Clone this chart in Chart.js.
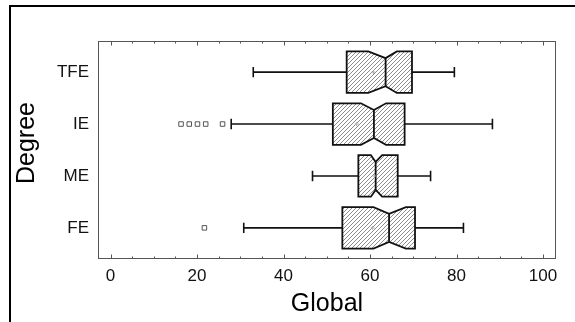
<!DOCTYPE html>
<html>
<head>
<meta charset="utf-8">
<script src="https://cdn.jsdelivr.net/npm/chart.js@4.4.1/dist/chart.umd.min.js"></script>
<style>
  html, body { margin: 0; padding: 0; background: #fff; overflow: hidden; }
</style>
</head>
<body>
<canvas id="boxChart" width="575" height="322"></canvas>
<script>
// categories bottom -> top
const categories = ['FE', 'ME', 'IE', 'TFE'];
const whiskerLow = [30.8, 46.7, 27.9, 33.0];
const q1 = [53.6, 57.3, 51.4, 54.6];
const medians = [64.4, 61.3, 60.9, 63.6];
const q3 = [70.4, 66.4, 68.0, 69.7];
const whiskerHigh = [81.6, 74.0, 88.3, 79.5];
const notchLow = [60.8, 60.2, 57.9, 59.6];
const notchHigh = [68.3, 62.8, 63.7, 66.2];
const means = [60.6, 61.0, 56.9, 60.8];
const outliers = [[21.7], [], [16.3, 18.2, 20.1, 22.0, 25.9], []];
const xTicks = [0, 20, 40, 60, 80, 100];

const FONT = "Arial, 'Liberation Sans', sans-serif";

// hatch pattern for the boxes
const hatch = (() => {
    const pc = document.createElement('canvas');
    pc.width = 4; pc.height = 4;
    const p = pc.getContext('2d');
    p.strokeStyle = '#6f6f6f';
    p.lineWidth = 0.8;
    p.beginPath();
    p.moveTo(0, 4); p.lineTo(4, 0);
    p.moveTo(-1, 1); p.lineTo(1, -1);
    p.moveTo(3, 5); p.lineTo(5, 3);
    p.stroke();
    return p.createPattern(pc, 'repeat');
})();

const boxPlugin = {
    id: 'boxPlugin',
    beforeDatasetsDraw(chart) {
        const { ctx, scales: { x, y } } = chart;
        const half = 0.4, notchDepth = 0.13, cap = 0.1;
        ctx.save();
        categories.forEach((c, i) => {
            const yc = i + 1;
            const yMid = y.getPixelForValue(yc);
            const top = y.getPixelForValue(yc + half);
            const bot = y.getPixelForValue(yc - half);
            const nTop = y.getPixelForValue(yc + half - notchDepth);
            const nBot = y.getPixelForValue(yc - half + notchDepth);
            const px = v => x.getPixelForValue(v);

            // whiskers
            ctx.strokeStyle = '#111';
            ctx.lineWidth = 1.6;
            ctx.beginPath();
            ctx.moveTo(px(whiskerLow[i]), yMid); ctx.lineTo(px(q1[i]), yMid);
            ctx.moveTo(px(q3[i]), yMid); ctx.lineTo(px(whiskerHigh[i]), yMid);
            ctx.moveTo(px(whiskerLow[i]), y.getPixelForValue(yc + cap));
            ctx.lineTo(px(whiskerLow[i]), y.getPixelForValue(yc - cap));
            ctx.moveTo(px(whiskerHigh[i]), y.getPixelForValue(yc + cap));
            ctx.lineTo(px(whiskerHigh[i]), y.getPixelForValue(yc - cap));
            ctx.stroke();

            // notched box
            ctx.beginPath();
            ctx.moveTo(px(q1[i]), top);
            ctx.lineTo(px(notchLow[i]), top);
            ctx.lineTo(px(medians[i]), nTop);
            ctx.lineTo(px(notchHigh[i]), top);
            ctx.lineTo(px(q3[i]), top);
            ctx.lineTo(px(q3[i]), bot);
            ctx.lineTo(px(notchHigh[i]), bot);
            ctx.lineTo(px(medians[i]), nBot);
            ctx.lineTo(px(notchLow[i]), bot);
            ctx.lineTo(px(q1[i]), bot);
            ctx.closePath();
            ctx.fillStyle = '#fff';
            ctx.fill();
            ctx.fillStyle = hatch;
            ctx.fill();
            ctx.lineWidth = 1.8;
            ctx.stroke();

            // median line
            ctx.beginPath();
            ctx.moveTo(px(medians[i]), nTop);
            ctx.lineTo(px(medians[i]), nBot);
            ctx.stroke();
        });
        ctx.restore();
    },
    afterDraw(chart) {
        const { ctx, chartArea: a, scales: { x } } = chart;
        ctx.save();
        // plot frame
        ctx.strokeStyle = '#555';
        ctx.lineWidth = 1;
        ctx.strokeRect(a.left + 0.5, a.top + 0.5, a.right - a.left - 1, a.bottom - a.top - 1);
        // inward ticks, top and bottom
        ctx.beginPath();
        for (let v = 0; v <= 100; v += 5) {
            const p = Math.round(x.getPixelForValue(v)) + 0.5;
            const len = v % 20 === 0 ? 4.5 : 2.5;
            ctx.moveTo(p, a.bottom); ctx.lineTo(p, a.bottom - len);
            ctx.moveTo(p, a.top); ctx.lineTo(p, a.top + len);
        }
        ctx.stroke();
        // outer frame of the graph window
        ctx.strokeStyle = '#000';
        ctx.lineWidth = 2;
        ctx.beginPath();
        ctx.moveTo(10, 330); ctx.lineTo(10, 6); ctx.lineTo(580, 6);
        ctx.stroke();
        ctx.restore();
    }
};

new Chart(document.getElementById('boxChart'), {
    type: 'scatter',
    data: {
        datasets: [
            {
                label: 'Outliers',
                data: outliers.flatMap((vals, i) => vals.map(v => ({ x: v, y: i + 1 }))),
                pointStyle: 'rect',
                pointRadius: 3.2,
                backgroundColor: '#fff',
                borderColor: '#555',
                borderWidth: 1
            },
            {
                label: 'Mean',
                data: means.map((v, i) => ({ x: v, y: i + 1 })),
                pointStyle: 'cross',
                pointRadius: 2,
                borderColor: '#b0b0b0',
                borderWidth: 1
            }
        ]
    },
    options: {
        responsive: false,
        devicePixelRatio: 1,
        animation: false,
        layout: { padding: { left: 0, top: 41, right: 19, bottom: 3 } },
        plugins: { legend: { display: false }, tooltip: { enabled: false } },
        scales: {
            x: {
                type: 'linear',
                min: -2.9,
                max: 103,
                afterBuildTicks: s => { s.ticks = xTicks.map(v => ({ value: v })); },
                afterFit: s => { s.height = 60; },
                grid: { display: false, drawTicks: false, tickLength: 0 },
                border: { display: false },
                ticks: { color: '#111', padding: 7, font: { family: FONT, size: 17 } },
                title: { display: true, text: 'Global', color: '#000', padding: 0, font: { family: FONT, size: 25 } }
            },
            y: {
                type: 'linear',
                min: 0.4,
                max: 4.6,
                afterBuildTicks: s => { s.ticks = categories.map((c, i) => ({ value: i + 1 })); },
                afterFit: s => { s.width = 98; },
                grid: { display: false, drawTicks: false, tickLength: 0 },
                border: { display: false },
                ticks: {
                    color: '#111',
                    padding: 9,
                    font: { family: FONT, size: 17 },
                    callback: v => categories[v - 1]
                },
                title: { display: true, text: '  Degree', color: '#000', padding: { top: 12, bottom: 0 }, font: { family: FONT, size: 25 } }
            }
        }
    },
    plugins: [boxPlugin]
});
</script>
</body>
</html>
